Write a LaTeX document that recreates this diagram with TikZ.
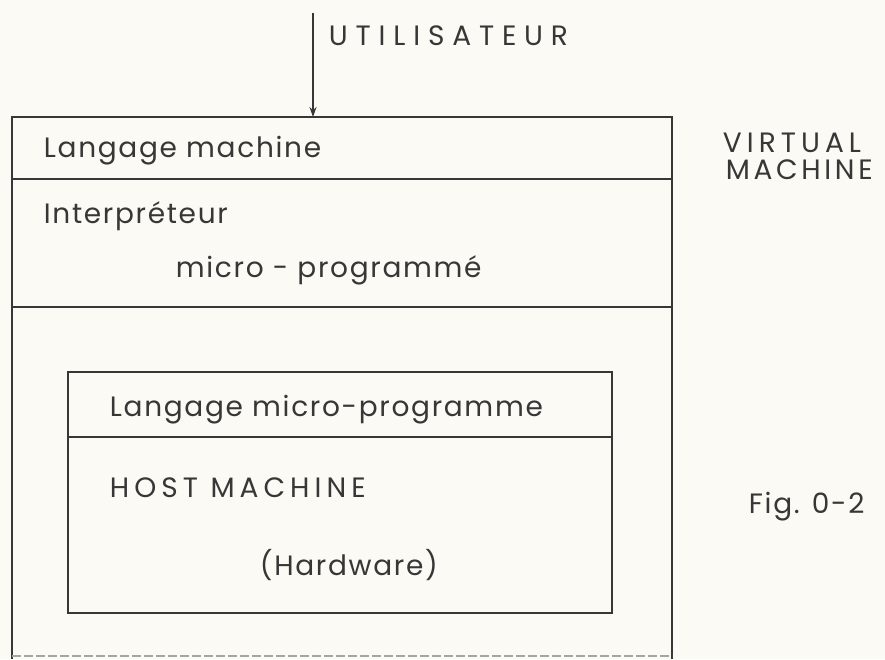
\documentclass[tikz,border=0pt]{standalone}
\usepackage{fontspec}
\newfontfamily\labelfont[LetterSpace=6]{Poppins}
\newfontfamily\capsfont[LetterSpace=18]{Poppins}
\newfontfamily\sidefont[LetterSpace=13]{Poppins}
\newfontfamily\userfont[LetterSpace=28]{Poppins}
\usetikzlibrary{arrows,arrows.meta}

\definecolor{paper}{RGB}{251,250,244}
\definecolor{ink}{RGB}{55,55,55}

\begin{document}
\begin{tikzpicture}[x=1pt, y=-1pt, >={Stealth[length=10pt,width=7pt]}, line width=1.8pt, draw=ink,
    lbl/.style={anchor=base west, inner sep=0pt, text=ink, font=\labelfont\fontsize{28}{32}\selectfont},
    caps/.style={lbl, font=\capsfont\fontsize{28}{32}\selectfont}]
    \fill [paper] (0,0) rectangle (885,659);
    \useasboundingbox (0,0) rectangle (885,659);

    % Boxes {virtual machine, host machine}
    \draw [ink] (12,659) -- (12,117) -- (672,117) -- (672,659);
    \draw [ink] (12,179) -- (672,179);
    \draw [ink] (12,307) -- (672,307);
    \draw [ink!45, line width=1.2pt, dash pattern=on 9pt off 3pt] (12,656) -- (672,656);
    \draw [ink] (68,372) rectangle (612,613);
    \draw [ink] (68,437) -- (612,437);

    % Nodes
    \coordinate (user)  at (313,13);
    \coordinate (entry) at (313,117);
    \node [caps, font=\userfont\fontsize{28}{32}\selectfont] (util) at (328,45) {UTILISATEUR};
    \node [lbl]  (langmach) at (43,157) {Langage machine};
    \node [caps] (virt)    at (722,152) {VIRTUAL};
    \node [caps, font=\sidefont\fontsize{28}{32}\selectfont] (vmach) at (725,179) {MACHINE};
    \node [lbl]  (interp)  at (43,223)  {Interpréteur};
    \node [lbl]  (microp)  at (175,277) {micro - programmé};
    \node [lbl]  (langmic) at (109,416) {Langage micro-programme};
    \node [caps] (host)    at (109,497) {HOST MACHINE};
    \node [lbl]  (hard)    at (259,575) {(Hardware)};
    \node [lbl]  (fig)     at (748,513) {Fig. 0-2};

    % Paths
    \draw [->, ink] (user) -- (entry);

\end{tikzpicture}
\end{document}
